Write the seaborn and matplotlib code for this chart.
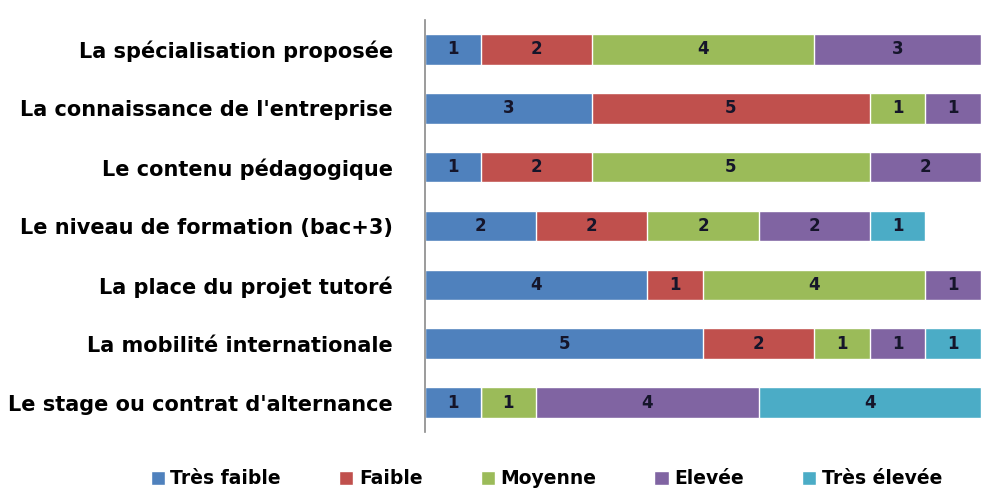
import pandas as pd
import numpy as np
import matplotlib
matplotlib.use("Agg")
import matplotlib.pyplot as plt
from matplotlib.patches import Patch
import seaborn as sns

# Data
categories = [
    "La spécialisation proposée",
    "La connaissance de l'entreprise",
    "Le contenu pédagogique",
    "Le niveau de formation (bac+3)",
    "La place du projet tutoré",
    "La mobilité internationale",
    "Le stage ou contrat d'alternance",
]
series = ["Très faible", "Faible", "Moyenne", "Elevée", "Très élevée"]
tres_faible = [1, 3, 1, 2, 4, 5, 1]
faible = [2, 5, 2, 2, 1, 2, 0]
moyenne = [4, 1, 5, 2, 4, 1, 1]
elevee = [3, 1, 2, 2, 1, 1, 4]
tres_elevee = [0, 0, 0, 1, 0, 1, 4]
colors = ["#4F81BD", "#C0504D", "#9BBB59", "#8064A2", "#4BACC6"]

df = pd.DataFrame({
    "categorie": categories,
    "Très faible": tres_faible,
    "Faible": faible,
    "Moyenne": moyenne,
    "Elevée": elevee,
    "Très élevée": tres_elevee,
})
cum = df[series].cumsum(axis=1)

sns.set_style("white")
plt.rcParams["font.family"] = ["DejaVu Sans"]

fig = plt.figure(figsize=(9.81, 4.91), dpi=100)
ax = fig.add_axes([425 / 981, 1 - 432 / 491, 556 / 981, 412 / 491])

# stacked bars: draw cumulative totals from the last series back to the first
for i in range(len(series) - 1, -1, -1):
    sns.barplot(x=cum[series[i]], y=df["categorie"], color=colors[i],
                orient="h", width=0.52, ax=ax, saturation=1)

# segment labels
for r in range(len(categories)):
    start = 0
    for s in series:
        v = df.loc[r, s]
        if v > 0:
            ax.text(start + v / 2, r, str(v), ha="center", va="center",
                    fontsize=12, fontweight="bold", color="#15152a")
        start += v

ax.set_xlim(0, 10)
ax.set_xlabel("")
ax.set_ylabel("")
ax.set_xticks([])
ax.tick_params(axis="y", length=0, pad=23)
for lab in ax.get_yticklabels():
    lab.set_fontsize(15)
    lab.set_fontweight("bold")
    lab.set_color("#000000")
for sp in ["top", "right", "bottom"]:
    ax.spines[sp].set_visible(False)
ax.spines["left"].set_color("#8a8a8a")
ax.spines["left"].set_linewidth(1.2)

handles = [Patch(facecolor=c, label=s) for c, s in zip(colors, series)]
leg = fig.legend(handles=handles, loc="center", bbox_to_anchor=(0.557, 0.025),
                 ncol=5, frameon=False, handlelength=0.75, handleheight=0.75,
                 handletextpad=0.3, columnspacing=3.1, labelcolor="black",
                 prop={"size": 13.5, "weight": "bold"})

fig.savefig("out.png", dpi=100)
